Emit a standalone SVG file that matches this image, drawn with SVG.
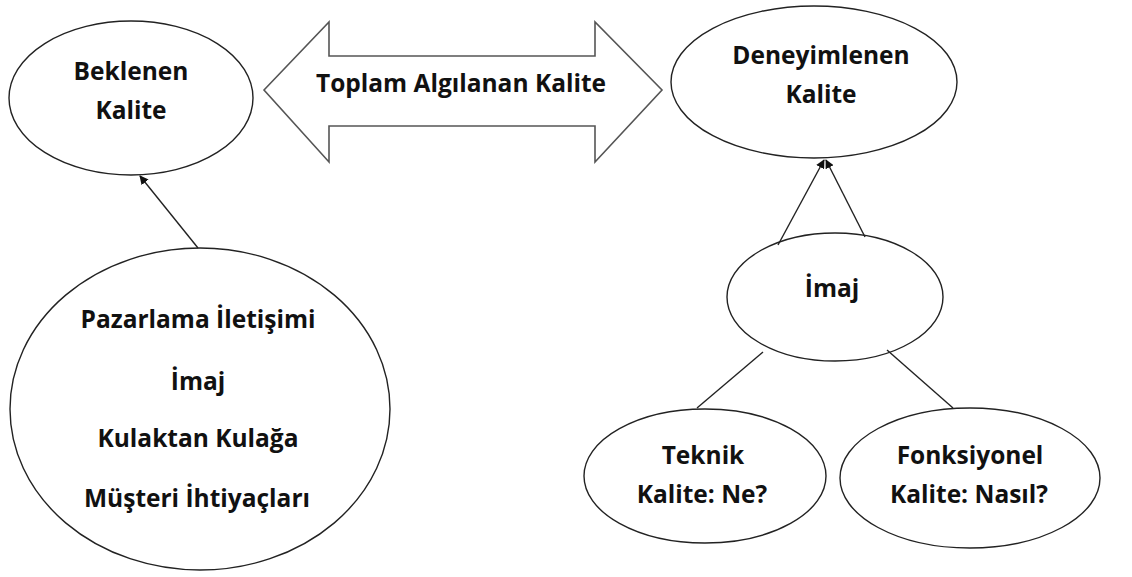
<svg xmlns="http://www.w3.org/2000/svg" width="1132" height="577" viewBox="0 0 1132 577">
  <style>
    .node { fill: #ffffff; stroke: #222222; stroke-width: 1.4; }
    .big-arrow { fill: #ffffff; stroke: #555555; stroke-width: 1.6; }
    .edge { fill: none; stroke: #222222; stroke-width: 1.4; }
    .label { font-family: "Open Sans", "Liberation Sans", sans-serif; font-weight: 700; font-size: 24.5px; fill: #111111; text-anchor: middle; }
  </style>
  <defs>
    <marker id="head" viewBox="0 0 10 10" refX="9" refY="5" markerWidth="9" markerHeight="9" markerUnits="userSpaceOnUse" orient="auto">
      <path d="M0,0 L10,5 L0,10 z" fill="#111111"/>
    </marker>
  </defs>

  <!-- double-headed block arrow -->
  <g id="toplam">
    <polygon class="big-arrow" points="264,90 329,22 329,56 595,56 595,22 662,90 595,162 595,126 329,126 329,162"/>
    <text class="label" x="461" y="92">Toplam Algılanan Kalite</text>
  </g>

  <g id="beklenen">
    <ellipse class="node" cx="131" cy="98" rx="122" ry="77"/>
    <text class="label" x="131" y="80">Beklenen</text>
    <text class="label" x="131" y="119">Kalite</text>
  </g>

  <g id="deneyimlenen">
    <ellipse class="node" cx="814" cy="82" rx="143" ry="76"/>
    <text class="label" x="821" y="64">Deneyimlenen</text>
    <text class="label" x="821" y="103">Kalite</text>
  </g>

  <g id="kaynaklar">
    <ellipse class="node" cx="200" cy="409" rx="190" ry="161"/>
    <text class="label" x="198" y="328">Pazarlama İletişimi</text>
    <text class="label" x="198" y="390">İmaj</text>
    <text class="label" x="198" y="447">Kulaktan Kulağa</text>
    <text class="label" x="197" y="507">Müşteri İhtiyaçları</text>
  </g>

  <g id="imaj">
    <ellipse class="node" cx="835" cy="297" rx="108" ry="64"/>
    <text class="label" x="832" y="297">İmaj</text>
  </g>

  <g id="teknik">
    <ellipse class="node" cx="705" cy="476" rx="121" ry="67"/>
    <text class="label" x="703" y="464">Teknik</text>
    <text class="label" x="702" y="503">Kalite: Ne?</text>
  </g>

  <g id="fonksiyonel">
    <ellipse class="node" cx="970" cy="478" rx="130" ry="70"/>
    <text class="label" x="970" y="464">Fonksiyonel</text>
    <text class="label" x="969" y="503">Kalite: Nasıl?</text>
  </g>

  <g id="connectors">
    <line class="edge" x1="198" y1="248" x2="140" y2="176" marker-end="url(#head)"/>
    <line class="edge" x1="778" y1="245" x2="824" y2="160" marker-end="url(#head)"/>
    <line class="edge" x1="865" y1="237" x2="826" y2="160" marker-end="url(#head)"/>
    <line class="edge" x1="763" y1="352" x2="697" y2="408"/>
    <line class="edge" x1="887" y1="350" x2="953" y2="408"/>
  </g>
</svg>
